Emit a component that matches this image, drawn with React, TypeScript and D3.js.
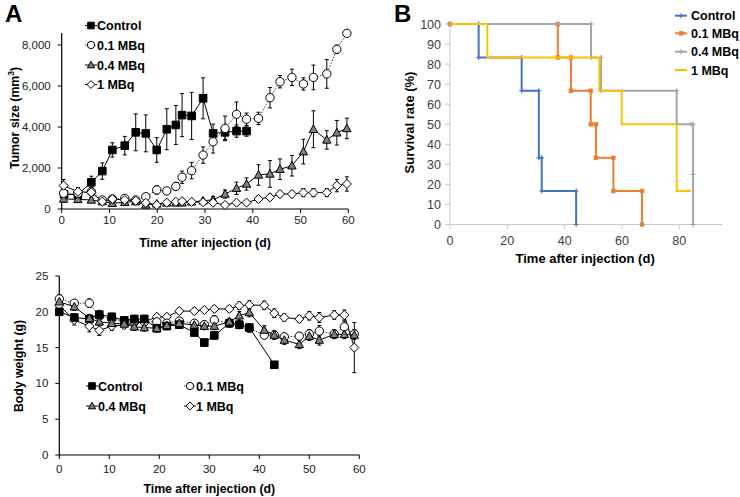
import React from 'react';
import * as d3 from 'd3';

const FONT = "'Liberation Sans', Arial, Helvetica, sans-serif";

// ---------- Panel A (top): tumor size ----------
const tumorTicks = [0, 2000, 4000, 6000, 8000];
const dayTicks = [0, 10, 20, 30, 40, 50, 60];

const ctrlTumorDays = [0.5, 3.4, 6.2, 8.5, 10.6, 13.2, 15.5, 17.6, 19.9, 22.0, 23.9, 25.2, 27.2, 29.6, 31.7, 34.2, 36.6, 38.7];
const ctrlTumor = [720, 700, 1300, 1850, 2880, 3090, 3740, 3690, 2880, 3890, 4100, 4580, 4540, 5400, 3690, 3740, 3800, 3800];
const ctrlTumorErr = [200, 200, 300, 400, 350, 450, 900, 900, 600, 1000, 950, 1050, 1150, 1000, 450, 350, 300, 250];

const treatTumorDays = [0.4, 3.4, 6.2, 8.5, 10.6, 13.2, 15.5, 17.6, 19.9, 22.0, 23.9, 25.2, 27.2, 29.6, 31.7, 34.2, 36.6, 38.7, 41.2, 43.6, 45.7, 48.2, 50.6, 52.7, 55.5, 57.6, 59.7];
const tumor01 = [765, 765, 845, 440, 490, 520, 440, 600, 930, 880, 1100, 1550, 1870, 2630, 3280, 3930, 4620, 4380, 4420, 5430, 6210, 6420, 6100, 6420, 6590, 7790, 8570];
const tumor01Err = [200, 150, 200, 100, 100, 100, 100, 150, 200, 150, 200, 300, 400, 400, 550, 600, 600, 300, 300, 500, 300, 400, 300, 600, 700, 200, 100];
const tumor04 = [490, 470, 440, 360, 280, 330, 360, 200, 250, 300, 300, 300, 350, 400, 450, 730, 1010, 1220, 1660, 1710, 1940, 2110, 2800, 3890, 3370, 3720, 3930];
const tumor04Err = [150, 150, 100, 100, 100, 100, 100, 100, 100, 100, 100, 100, 100, 100, 150, 200, 300, 300, 500, 650, 500, 500, 600, 900, 450, 600, 500];
const tumor1 = [1140, 845, 810, 360, 490, 440, 400, 300, 195, 310, 350, 380, 350, 330, 310, 195, 310, 310, 490, 570, 730, 730, 800, 800, 800, 1140, 1220];
const tumor1Err = [300, 200, 150, 100, 100, 100, 100, 100, 100, 100, 100, 100, 100, 100, 100, 100, 100, 100, 150, 150, 150, 150, 200, 200, 200, 300, 350];

// ---------- Panel A (bottom): body weight ----------
const weightTicks = [0, 5, 10, 15, 20, 25];
const ctrlWeightDays = [0, 3, 6, 8, 10.5, 13, 15, 17, 19.5, 21.5, 24, 27, 29, 31, 34, 36, 38, 43];
const ctrlWeight = [20.0, 19.2, 19.0, 19.6, 19.3, 18.8, 19.0, 19.0, 17.7, 18.0, 18.2, 17.1, 15.7, 16.7, 18.4, 18.2, 17.8, 12.6];
const ctrlWeightErr = [0.4, 0.5, 0.4, 0.6, 0.5, 0.4, 0.5, 0.5, 0.5, 0.5, 0.5, 0.4, 0.5, 0.5, 0.5, 0.4, 0.5, 0.3];

const treatWeightDays = [0, 3, 6, 8, 10.5, 13, 15, 17, 19.5, 21.5, 24, 27, 29, 31, 34, 36, 38, 41, 43, 45, 48, 50, 52, 55, 57, 59];
const weight01 = [21.8, 21.2, 21.2, 19.4, 19.0, 18.7, 18.7, 18.6, 18.6, 18.4, 18.7, 18.4, 18.2, 18.85, 18.4, 18.2, 17.7, 16.75, 16.75, 16.5, 16.6, 16.9, 17.3, 16.9, 17.9, 16.9];
const weight01Err = [0.6, 0.4, 0.6, 0.5, 0.5, 0.5, 0.5, 0.5, 0.5, 0.5, 0.5, 0.5, 0.5, 0.6, 0.5, 0.5, 0.5, 0.5, 0.5, 0.5, 0.5, 0.6, 0.8, 0.6, 0.8, 0.6];
const weight04 = [21.4, 20.7, 19.1, 18.6, 18.4, 18.3, 17.9, 17.8, 17.7, 18.1, 18.4, 18.15, 18.0, 18.0, 18.6, 19.45, 19.9, 17.45, 16.75, 16.05, 15.45, 16.6, 16.05, 16.85, 16.85, 16.75];
const weight04Err = [0.6, 0.5, 0.5, 0.5, 0.5, 0.5, 0.5, 0.5, 0.5, 0.5, 0.5, 0.5, 0.5, 0.5, 0.5, 0.6, 0.6, 0.6, 0.6, 0.6, 0.6, 0.6, 0.7, 0.6, 0.6, 0.6];
const weight1 = [20.9, 18.85, 18.0, 17.4, 18.0, 18.15, 18.4, 18.6, 19.3, 19.3, 20.1, 20.1, 20.25, 20.4, 20.4, 20.85, 20.95, 20.9, 19.8, 19.2, 19.0, 19.45, 19.2, 19.55, 19.55, 15.0];
const weight1Err = [0.5, 0.7, 0.8, 0.7, 0.6, 0.5, 0.5, 0.4, 0.4, 0.4, 0.4, 0.4, 0.4, 0.4, 0.4, 0.5, 0.6, 0.6, 0.6, 0.5, 0.5, 0.6, 0.7, 0.6, 0.7, 3.5];

// ---------- Panel B: survival ----------
const survYTicks = [0, 10, 20, 30, 40, 50, 60, 70, 80, 90, 100];
const survXTicks = [0, 20, 40, 60, 80];
const survCtrlT = [0, 10, 10, 25, 25, 31, 31, 32, 32, 44, 44];
const survCtrlS = [100, 100, 83.3, 83.3, 66.7, 66.7, 33.3, 33.3, 16.7, 16.7, 0];
const surv01T = [0, 37.6, 37.6, 42.2, 42.2, 49.1, 49.1, 50.9, 50.9, 57, 57, 67, 67];
const surv01S = [100, 100, 83.3, 83.3, 66.7, 66.7, 50, 50, 33.3, 33.3, 16.7, 16.7, 0];
const surv04T = [0, 49.2, 49.2, 52.7, 52.7, 79.1, 79.1, 84, 84.8, 84.8, 84.8];
const surv04S = [100, 100, 83.3, 83.3, 66.7, 66.7, 50, 50, 50, 25, 0];
const surv1T = [0, 13, 13, 52.1, 52.1, 59.9, 59.9, 79.1, 79.1, 84.1];
const surv1S = [100, 100, 83.3, 83.3, 66.7, 66.7, 50, 50, 16.7, 16.7];

const seriesNames = ['Control', '0.1 MBq', '0.4 MBq', '1 MBq'];
const shapes = ['square', 'circle', 'triangle', 'diamond'];
const survColors = ['#4472C4', '#ED7D31', '#A5A5A5', '#FFC000'];

function markerPath(shape: string, x: number, y: number, h: number) {
  const p = d3.path();
  if (shape === 'square') {
    p.rect(x - h, y - h, 2 * h, 2 * h);
  } else if (shape === 'triangle') {
    p.moveTo(x, y - h * 1.15);
    p.lineTo(x + h * 1.1, y + h * 0.85);
    p.lineTo(x - h * 1.1, y + h * 0.85);
    p.closePath();
  } else if (shape === 'diamond') {
    p.moveTo(x, y - h * 1.2);
    p.lineTo(x + h * 1.2, y);
    p.lineTo(x, y + h * 1.2);
    p.lineTo(x - h * 1.2, y);
    p.closePath();
  }
  return p.toString();
}

function Marker({ shape, x, y, h }: { shape: string; x: number; y: number; h: number }) {
  if (shape === 'circle') {
    return <circle cx={x} cy={y} r={h * 1.1} fill="#fff" stroke="#000" strokeWidth={1} />;
  }
  const fill = shape === 'square' ? '#000' : shape === 'triangle' ? '#7f7f7f' : '#fff';
  return <path d={markerPath(shape, x, y, h)} fill={fill} stroke="#000" strokeWidth={1} />;
}

type Series = { name: string; shape: string; days: number[]; vals: number[]; err: number[]; dotted: boolean };

function DataPanel({
  series, x, y, xTicks, yTicks, yFmt, yTop, xLabelY, xTitleY, yTitle, yTitleX, yTitleY, markerH, order,
}: {
  series: Series[]; x: d3.ScaleLinear<number, number>; y: d3.ScaleLinear<number, number>;
  xTicks: number[]; yTicks: number[]; yFmt: (v: number) => string; yTop: number;
  xLabelY: number; xTitleY: number; yTitle: React.ReactNode; yTitleX: number; yTitleY: number; markerH: number; order: number[];
}) {
  const [x0, x1] = x.range();
  const y0 = y.range()[0];
  return (
    <g>
      <line x1={x0} x2={x0} y1={y0} y2={yTop} stroke="#000" strokeWidth={1.2} />
      <line x1={x0} x2={x1} y1={y0} y2={y0} stroke="#000" strokeWidth={1.2} />
      {yTicks.map((t) => (
        <g key={'y' + t}>
          <line x1={x0 - 4} x2={x0} y1={y(t)} y2={y(t)} stroke="#000" />
          <text x={x0 - 11} y={y(t) + 4} textAnchor="end" fontSize={11.5} fontFamily={FONT} fill="#222">{yFmt(t)}</text>
        </g>
      ))}
      {xTicks.map((t) => (
        <g key={'x' + t}>
          <line x1={x(t)} x2={x(t)} y1={y0} y2={y0 + 4} stroke="#000" />
          <text x={x(t)} y={xLabelY} textAnchor="middle" fontSize={11.5} fontFamily={FONT} fill="#222">{t}</text>
        </g>
      ))}
      <text x={(x0 + x(60)) / 2} y={xTitleY} textAnchor="middle" fontSize={12.3} fontWeight="bold" fontFamily={FONT}>Time after injection (d)</text>
      <text transform={`translate(${yTitleX},${yTitleY}) rotate(-90)`} textAnchor="middle" fontSize={12.3} fontWeight="bold" fontFamily={FONT}>{yTitle}</text>
      {series.map((s) => (
        <g key={'e' + s.name}>
          {s.days.map((d, i) => (
            <g key={i}>
              <line x1={x(d)} x2={x(d)} y1={y(s.vals[i] - s.err[i])} y2={y(s.vals[i] + s.err[i])} stroke="#000" strokeWidth={1} />
              <line x1={x(d) - 2} x2={x(d) + 2} y1={y(s.vals[i] + s.err[i])} y2={y(s.vals[i] + s.err[i])} stroke="#000" strokeWidth={1} />
              <line x1={x(d) - 2} x2={x(d) + 2} y1={y(s.vals[i] - s.err[i])} y2={y(s.vals[i] - s.err[i])} stroke="#000" strokeWidth={1} />
            </g>
          ))}
        </g>
      ))}
      {order.map((k) => {
        const s = series[k];
        const line = d3.line<number>().x((d, i) => x(s.days[i])).y((d) => y(d));
        return (
          <g key={'s' + s.name}>
            <path d={line(s.vals) || ''} fill="none" stroke={s.dotted ? '#444' : '#000'} strokeWidth={1} strokeDasharray={s.dotted ? '1.5,1.5' : undefined} />
            {s.days.map((d, i) => (
              <Marker key={i} shape={s.shape} x={x(d)} y={y(s.vals[i])} h={markerH} />
            ))}
          </g>
        );
      })}
    </g>
  );
}

function LegendItem({ shape, dotted, x, y, label }: { shape: string; dotted: boolean; x: number; y: number; label: string }) {
  return (
    <g>
      <line x1={x - 6} x2={x + 6} y1={y} y2={y} stroke={dotted ? '#444' : '#000'} strokeWidth={1} strokeDasharray={dotted ? '1.5,1.5' : undefined} />
      <Marker shape={shape} x={x} y={y} h={3.3} />
      <text x={x + 6} y={y + 4.5} fontSize={12.5} fontWeight="bold" fontFamily={FONT}>{label}</text>
    </g>
  );
}

export default function App() {
  const xT = d3.scaleLinear().domain([0, 60]).range([61.7, 348.3]);
  const yT = d3.scaleLinear().domain([0, 8000]).range([209, 45]);
  const xW = d3.scaleLinear().domain([0, 60]).range([59.3, 359.3]);
  const yW = d3.scaleLinear().domain([0, 25]).range([455, 276]);
  const xS = d3.scaleLinear().domain([0, 80]).range([450, 679.3]);
  const yS = d3.scaleLinear().domain([0, 100]).range([224.5, 24]);
  const xSEnd = xS(95);

  const tumorSeries: Series[] = [
    { name: seriesNames[0], shape: shapes[0], days: ctrlTumorDays, vals: ctrlTumor, err: ctrlTumorErr, dotted: false },
    { name: seriesNames[1], shape: shapes[1], days: treatTumorDays, vals: tumor01, err: tumor01Err, dotted: true },
    { name: seriesNames[2], shape: shapes[2], days: treatTumorDays, vals: tumor04, err: tumor04Err, dotted: false },
    { name: seriesNames[3], shape: shapes[3], days: treatTumorDays, vals: tumor1, err: tumor1Err, dotted: false },
  ];
  const weightSeries: Series[] = [
    { name: seriesNames[0], shape: shapes[0], days: ctrlWeightDays, vals: ctrlWeight, err: ctrlWeightErr, dotted: false },
    { name: seriesNames[1], shape: shapes[1], days: treatWeightDays, vals: weight01, err: weight01Err, dotted: true },
    { name: seriesNames[2], shape: shapes[2], days: treatWeightDays, vals: weight04, err: weight04Err, dotted: false },
    { name: seriesNames[3], shape: shapes[3], days: treatWeightDays, vals: weight1, err: weight1Err, dotted: false },
  ];
  const survT = [survCtrlT, surv01T, surv04T, surv1T];
  const survS = [survCtrlS, surv01S, surv04S, surv1S];
  const fmtComma = d3.format(',');

  const topLegendY = [25.5, 45, 65, 84.5];
  const wLegendPos = [[92, 386], [190, 386], [92, 406], [190, 406]];
  const survLegendY = [15.7, 33.3, 51.7, 70];

  return (
    <svg width={740} height={497} style={{ position: 'absolute', left: 0, top: 0, background: '#fff' }} fontFamily={FONT}>
      <rect width={740} height={497} fill="#fff" />
      <text x={5} y={22} fontSize={24} fontWeight="bold" fontFamily={FONT}>A</text>
      <text x={394} y={22} fontSize={24} fontWeight="bold" fontFamily={FONT}>B</text>

      <DataPanel series={tumorSeries} x={xT} y={yT} xTicks={dayTicks} yTicks={tumorTicks} yFmt={(v) => fmtComma(v)}
        yTop={33} xLabelY={224} xTitleY={247}
        yTitle={<>Tumor size (mm<tspan fontSize={8.5} dy={-5}>3</tspan><tspan dy={5}>)</tspan></>}
        yTitleX={18.5} yTitleY={118} markerH={3.8} order={[0, 2, 1, 3]} />
      {seriesNames.map((n, i) => (
        <LegendItem key={'tl' + n} shape={shapes[i]} dotted={i === 1} x={91} y={topLegendY[i]} label={n} />
      ))}

      <DataPanel series={weightSeries} x={xW} y={yW} xTicks={dayTicks} yTicks={weightTicks} yFmt={(v) => String(v)}
        yTop={276} xLabelY={472.5} xTitleY={493} yTitle="Body weight (g)" yTitleX={22.5} yTitleY={366} markerH={3.8} order={[3, 1, 0, 2]} />
      {seriesNames.map((n, i) => (
        <LegendItem key={'wl' + n} shape={shapes[i]} dotted={i === 1} x={wLegendPos[i][0]} y={wLegendPos[i][1]} label={n} />
      ))}

      <g>
        <line x1={xS(0)} x2={xS(0)} y1={yS(0)} y2={yS(100)} stroke="#c9c9c9" strokeWidth={1} />
        <line x1={xS(0)} x2={xSEnd} y1={yS(0)} y2={yS(0)} stroke="#c9c9c9" strokeWidth={1} />
        {survYTicks.map((t) => (
          <g key={'sy' + t}>
            <line x1={xS(0) - 5} x2={xS(0)} y1={yS(t)} y2={yS(t)} stroke="#c9c9c9" />
            <text x={xS(0) - 9} y={yS(t) + 4.5} textAnchor="end" fontSize={12.5} fontFamily={FONT} fill="#404040">{t}</text>
          </g>
        ))}
        {survXTicks.map((t) => (
          <g key={'sx' + t}>
            <line x1={xS(t)} x2={xS(t)} y1={yS(0)} y2={yS(0) + 5} stroke="#c9c9c9" />
            <text x={xS(t)} y={yS(0) + 20} textAnchor="middle" fontSize={12.5} fontFamily={FONT} fill="#404040">{t}</text>
          </g>
        ))}
        <text x={(xS(0) + xSEnd) / 2 - 1} y={262.5} textAnchor="middle" fontSize={13} fontWeight="bold" fontFamily={FONT}>Time after injection (d)</text>
        <text transform={`translate(413.5,122.5) rotate(-90)`} textAnchor="middle" fontSize={13} fontWeight="bold" fontFamily={FONT}>Survival rate (%)</text>
        {seriesNames.map((n, k) => {
          const line = d3.line<number>().x((d, i) => xS(survT[k][i])).y((d) => yS(d));
          return (
            <g key={'sv' + n}>
              <path d={line(survS[k]) || ''} fill="none" stroke={survColors[k]} strokeWidth={2} />
              {k < 3 && survS[k].map((v, i) => (
                k === 1
                  ? <rect key={i} x={xS(survT[k][i]) - 2.2} y={yS(v) - 2.2} width={4.4} height={4.4} fill={survColors[k]} />
                  : <path key={i} d={`M${xS(survT[k][i]) - 2.5},${yS(v)}h5M${xS(survT[k][i])},${yS(v) - 2.5}v5`} stroke={survColors[k]} strokeWidth={1.2} />
              ))}
            </g>
          );
        })}
        {seriesNames.map((n, k) => (
          <g key={'sl' + n}>
            <line x1={675} x2={687} y1={survLegendY[k]} y2={survLegendY[k]} stroke={survColors[k]} strokeWidth={2} />
            {k === 1 && <rect x={679} y={survLegendY[k] - 2.2} width={4.4} height={4.4} fill={survColors[k]} />}
            {(k === 0 || k === 2) && <path d={`M681,${survLegendY[k] - 2.5}v5`} stroke={survColors[k]} strokeWidth={1.2} />}
            <text x={691} y={survLegendY[k] + 4.5} fontSize={12.5} fontWeight="bold" fontFamily={FONT}>{n}</text>
          </g>
        ))}
      </g>
    </svg>
  );
}
